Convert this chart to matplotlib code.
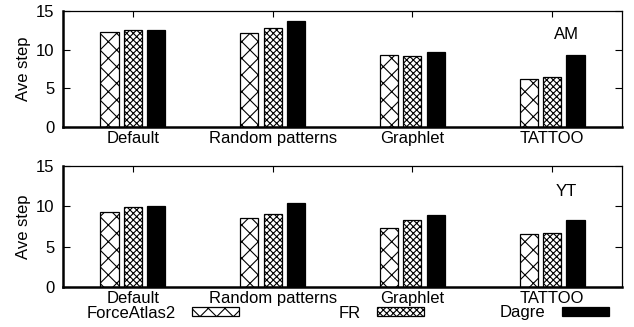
import matplotlib.pyplot as plt
from matplotlib.patches import Patch
import numpy as np

plt.rcParams['font.family'] = ['Liberation Sans', 'DejaVu Sans']
plt.rcParams['font.size'] = 12
plt.rcParams['hatch.linewidth'] = 0.8

GROUPS = ["Default", "Random patterns", "Graphlet", "TATTOO"]
METHODS = ["ForceAtlas2", "FR", "Dagre"]

# AM dataset
am_fa = [12.3, 12.2, 9.27, 6.25]
am_fr = [12.6, 12.75, 9.14, 6.42]
am_dagre = [12.6, 13.75, 9.74, 9.35]

# YT dataset
yt_fa = [9.26, 8.51, 7.31, 6.57]
yt_fr = [9.88, 9.05, 8.26, 6.69]
yt_dagre = [10.04, 10.41, 8.97, 8.26]

STYLES = [dict(facecolor="white", hatch="xx"),
          dict(facecolor="white", hatch="xxxxx"),
          dict(facecolor="black", hatch=None)]

x = np.arange(len(GROUPS))
offsets = [-0.167, 0.0, 0.167]
width = 0.13

fig = plt.figure(figsize=(6.34, 3.27), dpi=100)
ax_am = fig.add_axes([0.0994, 0.6116, 0.8816, 0.3547])
ax_yt = fig.add_axes([0.0994, 0.1223, 0.8816, 0.3700])


def draw(ax, series, name, name_y):
    for vals, off, st in zip(series, offsets, STYLES):
        ax.bar(x + off, vals, width, edgecolor="black", linewidth=0.9, **st)
    ax.set_xlim(-0.5, 3.5)
    ax.set_ylim(0, 15)
    ax.set_yticks([0, 5, 10, 15])
    ax.set_xticks(x)
    ax.set_xticklabels(GROUPS)
    ax.tick_params(axis="y", direction="in", length=5, right=True, pad=6)
    ax.tick_params(axis="x", direction="in", length=4, top=True, bottom=False, pad=3)
    ax.spines["bottom"].set_linewidth(1.8)
    ax.spines["left"].set_linewidth(1.8)
    ax.spines["top"].set_linewidth(0.9)
    ax.spines["right"].set_linewidth(0.9)
    ax.set_ylabel("Ave step", labelpad=4)
    ax.text(3.1, name_y, name, ha="center", va="center")


draw(ax_am, [am_fa, am_fr, am_dagre], "AM", 12.0)
draw(ax_yt, [yt_fa, yt_fr, yt_dagre], "YT", 11.8)

# gnuplot-like key: right-justified text, swatch at fixed column positions
swatch_right = [239, 424, 609]
for name, st, xr in zip(METHODS, STYLES, swatch_right):
    h = Patch(edgecolor="black", linewidth=0.9, **st)
    lg = fig.legend([h], [name], loc="center right", bbox_to_anchor=(xr / 634, 14 / 327),
                    frameon=False, markerfirst=False, handlelength=2.8, handleheight=0.5,
                    handletextpad=1.0, borderpad=0, borderaxespad=0, fontsize=12)

fig.savefig("out.png", dpi=100)
